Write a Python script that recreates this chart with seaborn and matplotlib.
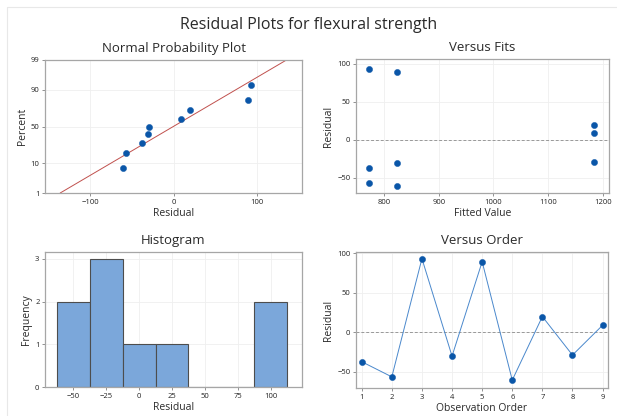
import matplotlib
matplotlib.use("Agg")
import matplotlib.pyplot as plt
from matplotlib.lines import Line2D
import seaborn as sns
import numpy as np
import pandas as pd
from statistics import NormalDist

# ---- data ----
observation_order = [1, 2, 3, 4, 5, 6, 7, 8, 9]
residuals = [-37.3, -56.5, 93.3, -30.2, 89.4, -60.6, 19.9, -28.9, 8.9]
fitted_values = [773, 773, 773, 824, 824, 824, 1183, 1183, 1183]
prob_ticks = [1, 10, 50, 90, 99]
hist_ticks = [-50, -25, 0, 25, 50, 75, 100]

sns.set_style("whitegrid")
plt.rcParams['font.family'] = ['Open Sans', 'DejaVu Sans']
plt.rcParams['axes.edgecolor'] = '#a6a6a6'
plt.rcParams['grid.color'] = '#efefef'
plt.rcParams['grid.linewidth'] = 0.6
plt.rcParams['xtick.bottom'] = True
plt.rcParams['ytick.left'] = True
plt.rcParams['xtick.major.size'] = 2.5
plt.rcParams['ytick.major.size'] = 2.5
plt.rcParams['xtick.color'] = '#808080'
plt.rcParams['ytick.color'] = '#808080'
plt.rcParams['xtick.labelcolor'] = '#222222'
plt.rcParams['ytick.labelcolor'] = '#222222'

W, H = 617, 416
fig = plt.figure(figsize=(W / 100, H / 100), dpi=100)

def px_axes(x0, y0, x1, y1):
    return fig.add_axes([x0 / W, 1 - y1 / H, (x1 - x0) / W, (y1 - y0) / H])

ax1 = px_axes(45, 60, 302, 193)
ax2 = px_axes(356, 59, 609, 193)
ax3 = px_axes(45, 252, 302, 387)
ax4 = px_axes(356, 252, 608, 388)

dot = '#0a56a8'
txt = '#2a2a2a'
tick_fs = 5.5
lab_fs = 7.5
title_fs = 9.5

df = pd.DataFrame({'order': observation_order, 'resid': residuals, 'fit': fitted_values})

# ---- Normal probability plot ----
nd = NormalDist()
n = len(residuals)
srt = np.sort(residuals)
pct = [(i + 1 - 0.3) / (n + 0.4) for i in range(n)]
z = [nd.inv_cdf(p) for p in pct]
npdf = pd.DataFrame({'resid': srt, 'z': z})
mu = float(np.mean(residuals))
sd = float(np.std(residuals, ddof=1))
ax1.axline((mu, 0), slope=1 / sd, color='#c0504d', lw=0.7, zorder=2)
sns.scatterplot(data=npdf, x='resid', y='z', ax=ax1, color=dot, s=20, edgecolor=dot, linewidth=0.3, zorder=3)
zmax = nd.inv_cdf(0.99)
ax1.set_ylim(-zmax, zmax)
ax1.set_yticks([nd.inv_cdf(p / 100) for p in prob_ticks])
ax1.set_yticklabels([str(p) for p in prob_ticks])
ax1.set_xlim(-154, 154)
ax1.set_xticks([-100, 0, 100])
ax1.set_xlabel('Residual', fontsize=lab_fs, color=txt, labelpad=2)
ax1.set_ylabel('Percent', fontsize=lab_fs, color=txt, labelpad=2)
ax1.set_title('Normal Probability Plot', fontsize=title_fs, color=txt, pad=6)

# ---- Versus fits ----
ax2.axhline(0, color='#999999', lw=0.7, ls=(0, (3, 2)), zorder=1)
sns.scatterplot(data=df, x='fit', y='resid', ax=ax2, color=dot, s=20, edgecolor=dot, linewidth=0.3, zorder=3)
ax2.set_xlim(749, 1211)
ax2.set_ylim(-70, 106)
ax2.set_xticks([800, 900, 1000, 1100, 1200])
ax2.set_yticks([-50, 0, 50, 100])
ax2.set_xlabel('Fitted Value', fontsize=lab_fs, color=txt, labelpad=2)
ax2.set_ylabel('Residual', fontsize=lab_fs, color=txt, labelpad=2)
ax2.set_title('Versus Fits', fontsize=title_fs, color=txt, pad=6)

# ---- Histogram ----
sns.histplot(data=df, x='resid', ax=ax3, binwidth=25, binrange=(-62.5, 112.5),
             color='#7ba7da', edgecolor='#4d4d4d', linewidth=0.8, alpha=1, zorder=2)
ax3.set_xlim(-71.5, 123.8)
ax3.set_ylim(0, 3.16)
ax3.set_xticks(hist_ticks)
ax3.set_yticks([0, 1, 2, 3])
ax3.set_xlabel('Residual', fontsize=lab_fs, color=txt, labelpad=2)
ax3.set_ylabel('Frequency', fontsize=lab_fs, color=txt, labelpad=2)
ax3.set_title('Histogram', fontsize=title_fs, color=txt, pad=6)

# ---- Versus order ----
ax4.axhline(0, color='#999999', lw=0.7, ls=(0, (3, 2)), zorder=1)
sns.lineplot(data=df, x='order', y='resid', ax=ax4, color='#4a88cc', lw=0.7, zorder=2)
sns.scatterplot(data=df, x='order', y='resid', ax=ax4, color=dot, s=20, edgecolor=dot, linewidth=0.3, zorder=3)
ax4.set_xlim(0.81, 9.18)
ax4.set_ylim(-70.6, 101.7)
ax4.set_xticks(observation_order)
ax4.set_yticks([-50, 0, 50, 100])
ax4.set_xlabel('Observation Order', fontsize=lab_fs, color=txt, labelpad=2)
ax4.set_ylabel('Residual', fontsize=lab_fs, color=txt, labelpad=2)
ax4.set_title('Versus Order', fontsize=title_fs, color=txt, pad=6)

for ax in (ax1, ax2, ax3, ax4):
    ax.tick_params(labelsize=tick_fs, pad=1.5, width=0.6)
    for s in ax.spines.values():
        s.set_linewidth(0.9)
    ax.set_axisbelow(True)

fig.suptitle('Residual Plots for flexural strength', fontsize=11.5, color=txt, y=1 - 25 / H, va='center')

# faint outer frame of the graph window
fig.add_artist(Line2D([7 / W, 1], [1 - 7 / H, 1 - 7 / H], color='#e8e8e8', lw=0.8))
fig.add_artist(Line2D([7 / W, 7 / W], [0, 1 - 7 / H], color='#e8e8e8', lw=0.8))

fig.savefig('out.png', dpi=100)
